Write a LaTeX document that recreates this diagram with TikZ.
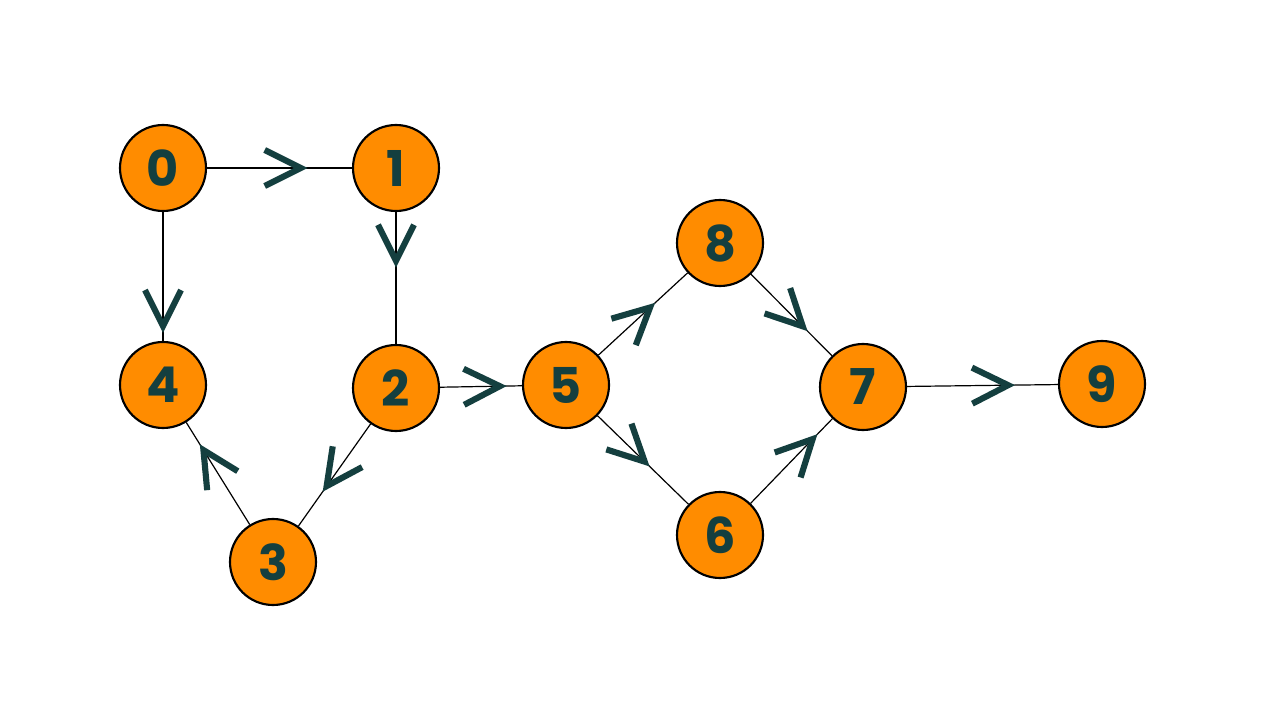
\documentclass[tikz,border=0pt]{standalone}
\usepackage{fontspec}
\newfontfamily\numfont{Poppins}
\usetikzlibrary{decorations.markings}
\definecolor{nodeorange}{HTML}{FF8C00}
\definecolor{darkteal}{HTML}{143F3F}
\tikzset{
  vertex/.style={circle, draw=black, line width=1.6pt, fill=nodeorange,
    minimum size=64.5pt, inner sep=0pt, text=darkteal,
    font=\numfont\bfseries\fontsize{37}{37}\selectfont},
  chevstyle/.style={draw=darkteal, line width=4.6pt, miter limit=10},
  edge/.style={draw=black, line width=0.9pt, postaction={decorate,
    decoration={markings, mark=at position #1 with {
      \draw[chevstyle] (-27pt,13.5pt) -- (0pt,0pt) -- (-27pt,-13.5pt);}}}}
}
\begin{document}
\begin{tikzpicture}[x=0.75pt,y=-0.75pt]
\useasboundingbox[fill=white] (0,0) rectangle (1280,720);
\node[vertex] (n0) at (163,168) {0};
\node[vertex] (n1) at (396,168) {1};
\node[vertex] (n4) at (163,385) {4};
\node[vertex] (n2) at (396,388) {2};
\node[vertex] (n3) at (273,562) {3};
\node[vertex] (n5) at (566,385) {5};
\node[vertex] (n8) at (720,243) {8};
\node[vertex] (n7) at (863,387) {7};
\node[vertex] (n6) at (720,535) {6};
\node[vertex] (n9) at (1102,384) {9};
\draw[edge=0.646] (n0) -- (n1);
\draw[edge=0.37] (n1) -- (n2);
\draw[edge=0.885] (n0) -- (n4);
\draw[edge=0.73] (n2) -- (n5);
\draw[edge=0.61] (n2) -- (n3);
\draw[edge=0.73] (n3) -- (n4);
\draw[edge=0.58] (n5) -- (n8);
\draw[edge=0.64] (n8) -- (n7);
\draw[edge=0.52] (n5) -- (n6);
\draw[edge=0.76] (n6) -- (n7);
\draw[edge=0.67] (n7) -- (n9);
\end{tikzpicture}
\end{document}
